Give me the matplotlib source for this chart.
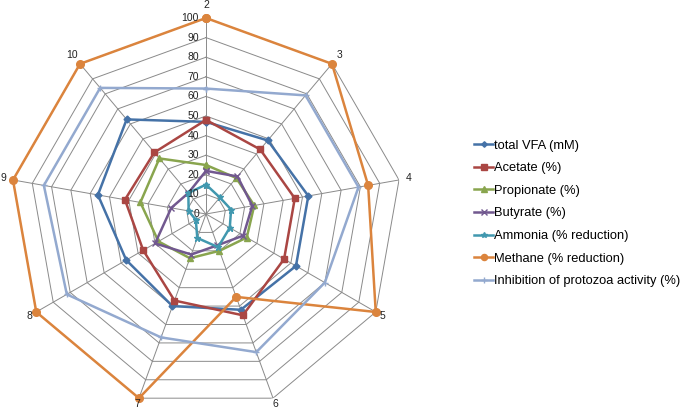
import numpy as np
import matplotlib.pyplot as plt
from matplotlib.transforms import offset_copy

plt.rcParams['font.family'] = ['Liberation Sans', 'DejaVu Sans']

# axis labels (treatments), clockwise from the top
categories = ['2', '3', '4', '5', '6', '7', '8', '9', '10']

total_vfa = [47, 49, 53, 53, 52, 50, 47, 56, 63]
acetate = [48, 43, 46, 46, 55, 47, 37, 42, 41]
propionate = [25, 24, 25, 24, 20, 24, 28, 34, 37]
butyrate = [22, 25, 24, 22, 17, 22, 30, 18, 14]
ammonia = [15, 11, 13, 14, 18, 13, 6, 9, 14]
methane = [100, 100, 84, 100, 45, 100, 100, 100, 100]
protozoa = [64, 79, 79, 70, 75, 67, 82, 84, 84]

r_ticks = [0, 10, 20, 30, 40, 50, 60, 70, 80, 90, 100]

series = [
    ('total VFA (mM)', total_vfa, '#4572A7', 'D', 3.5),
    ('Acetate (%)', acetate, '#AA4643', 's', 5),
    ('Propionate (%)', propionate, '#89A54E', '^', 5),
    ('Butyrate (%)', butyrate, '#71588F', 'x', 5),
    ('Ammonia (% reduction)', ammonia, '#4198AF', '*', 5),
    ('Methane (% reduction)', methane, '#DB843D', 'o', 5.5),
    ('Inhibition of protozoa activity (%)', protozoa, '#93A9CF', '+', 5),
]

n = len(categories)
angles = np.arange(n) * 2 * np.pi / n
closed = np.append(angles, angles[0])

fig = plt.figure(figsize=(6.85, 4.08), dpi=100)
ax = fig.add_axes([10 / 685, -2 / 408, 392 / 685, 392 / 408], projection='polar')
ax.set_theta_offset(np.pi / 2)
ax.set_theta_direction(-1)
ax.set_ylim(0, 100)
ax.grid(False)
ax.spines['polar'].set_visible(False)
ax.set_xticks([])
ax.set_yticks([])
ax.patch.set_alpha(0)

# polygon grid and spokes
for r in r_ticks[1:]:
    ax.plot(closed, [r] * (n + 1), color='#8a8a8a', lw=0.7, zorder=0)
for a in angles:
    ax.plot([a, a], [0, 100], color='#8a8a8a', lw=0.7, zorder=0)

lbl_tr = offset_copy(ax.transData, fig=fig, x=-5, y=0, units='points')
for r in r_ticks:
    ax.text(0, r, str(r), transform=lbl_tr, ha='right', va='center',
            fontsize=7.5, color='#222222')

for a, c in zip(angles, categories):
    ax.text(a, 104.8 + 1.7 * np.cos(a), c, ha='center', va='center',
            fontsize=7.5, color='#222222')

handles = []
for name, vals, col, mk, ms in series:
    v = np.append(vals, vals[0])
    h, = ax.plot(closed, v, color=col, lw=1.8, marker=mk, markersize=ms,
                 markeredgecolor=col, markerfacecolor=col, markeredgewidth=1.0,
                 label=name, clip_on=False)
    handles.append(h)

fig.legend(handles=handles, loc='center left', bbox_to_anchor=(469 / 685, 0.477),
           frameon=False, fontsize=9.3, handlelength=1.45, handletextpad=0.1,
           labelspacing=0.82, borderaxespad=0, markerscale=0.8)

fig.savefig('out.png', dpi=100)
